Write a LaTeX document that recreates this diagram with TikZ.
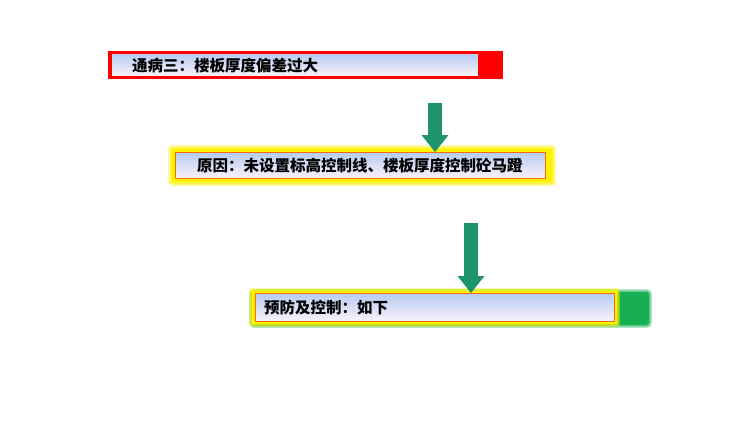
\documentclass[tikz,border=0pt]{standalone}
\usepackage{fontspec}
\newfontfamily\cjk{Noto Sans CJK SC}
\usetikzlibrary{positioning,calc,arrows.meta}

\definecolor{vertfleche}{RGB}{30,148,110}
\definecolor{bleuhaut}{RGB}{182,204,240}
\definecolor{rosebas}{RGB}{252,242,252}
\definecolor{vertfond}{RGB}{22,176,82}
\definecolor{orangebord}{RGB}{250,105,20}

\tikzset{
  boite/.style={draw=#1, line width=1.3pt, top color=bleuhaut, bottom color=rosebas,
    inner sep=0pt, anchor=north west},
  texte/.style={inner sep=0pt, anchor=west, font=\cjk\bfseries\fontsize{15.5}{18}\selectfont},
  fleche/.style={vertfleche, line width=14pt,
    -{Triangle[width=27pt,length=17pt,line width=0pt]}},
}

\begin{document}
\begin{tikzpicture}[x=1pt,y=-1pt]
\useasboundingbox (0,0) rectangle (750,421); % Pour la bounding box

% Premier cadre : fond rouge
\coordinate (c1) at (111,53);
\fill[red] ($(c1)+(-3,-2)$) rectangle ($(c1)+(392,26)$);
\node[boite=red, minimum width=367pt, minimum height=23pt] (pb) at (c1) {};
\node[texte, right=21pt of pb.west] (tpb) {通病三：楼板厚度偏差过大};

% Deuxieme cadre : halo jaune
\coordinate (c2) at (175,152);
\foreach \e in {4,3,2,1} {
  \fill[yellow, opacity=0.3, rounded corners=\e] ($(c2)+(-3-\e,-3-\e)$) rectangle ($(c2)+(377+\e,30+\e)$);
}
\fill[yellow] ($(c2)+(-3,-3)$) rectangle ($(c2)+(377,30)$);
\node[boite=orangebord, line width=1pt, minimum width=370pt, minimum height=26pt] (ca) at (c2) {};
\node[texte, right=22pt of ca.west] (tca) {原因：未设置标高控制线、楼板厚度控制砼马蹬};

% Troisieme cadre : fond vert et halo jaune
\coordinate (c3) at (255,293);
\foreach \e in {3,2,1} {
  \fill[vertfond, opacity=0.3, rounded corners=\e+2] ($(c3)+(-3-\e,-1-\e)$) rectangle ($(c3)+(394+\e,32+\e)$);
}
\fill[vertfond, rounded corners=3] ($(c3)+(-3,-1)$) rectangle ($(c3)+(394,32)$);
\foreach \e in {3,2,1} {
  \fill[yellow, opacity=0.35, rounded corners=\e] ($(c3)+(-3-\e,-2-\e)$) rectangle ($(c3)+(362+\e,31+\e)$);
}
\fill[yellow] ($(c3)+(-3,-2)$) rectangle ($(c3)+(362,31)$);
\node[boite=orangebord, line width=1.3pt, minimum width=359pt, minimum height=28pt] (pc) at (c3) {};
\node[texte, right=9pt of pc.west] (tpc) {预防及控制：如下};

% Fleches
\coordinate (h1) at (435,103);
\coordinate (h2) at (471,223);
\draw[fleche] (h1) -- (h1 |- ca.north);
\draw[fleche] (h2) -- (h2 |- pc.north);
\end{tikzpicture}
\end{document}
